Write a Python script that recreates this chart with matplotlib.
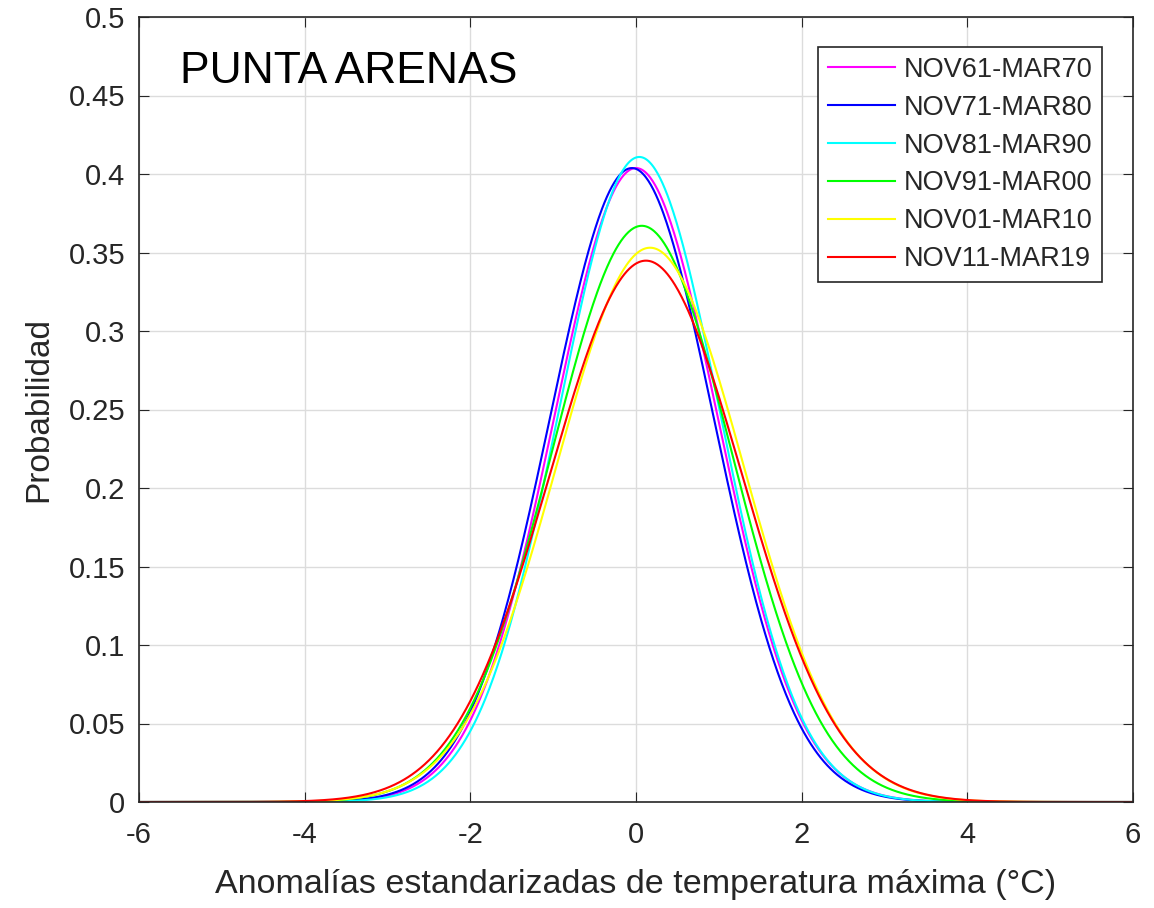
import numpy as np
import matplotlib
matplotlib.use("Agg")
import matplotlib.pyplot as plt

plt.rcParams['font.family'] = ['Liberation Sans', 'DejaVu Sans']
plt.rcParams['axes.unicode_minus'] = False

periods = ["NOV61-MAR70", "NOV71-MAR80", "NOV81-MAR90", "NOV91-MAR00", "NOV01-MAR10", "NOV11-MAR19"]
colors = ["#ff00ff", "#0000ff", "#00ffff", "#00ff00", "#ffff00", "#ff0000"]
means = [0.00, -0.05, 0.04, 0.07, 0.17, 0.12]
stds = [0.988, 0.988, 0.971, 1.087, 1.130, 1.157]

x = np.linspace(-6, 6, 1201)

fig = plt.figure(figsize=(11.54, 9.08), dpi=100)
ax = fig.add_axes([139/1154, 1-802/908, (1133-139)/1154, (802-17)/908])
for p, c, m, s in zip(periods, colors, means, stds):
    y = np.exp(-0.5*((x-m)/s)**2)/(s*np.sqrt(2*np.pi))
    ax.plot(x, y, color=c, lw=1.5, label=p)

ax.set_xlim(-6, 6)
ax.set_ylim(0, 0.5)
ax.set_xticks([-6, -4, -2, 0, 2, 4, 6])
ax.set_xticklabels(["-6", "-4", "-2", "0", "2", "4", "6"])
ax.set_yticks(np.arange(0, 0.501, 0.05))
ax.set_yticklabels(["0", "0.05", "0.1", "0.15", "0.2", "0.25", "0.3", "0.35", "0.4", "0.45", "0.5"])
ax.grid(True, color="#dcdcdc", lw=1)
ax.set_axisbelow(True)
ax.tick_params(direction='in', top=True, right=True, labelsize=21, colors="#262626", length=7)
ax.tick_params(axis='x', pad=14)
ax.tick_params(axis='y', pad=10)
for sp in ax.spines.values():
    sp.set_color("#262626")
    sp.set_linewidth(1.2)
ax.set_xlabel("Anomalías estandarizadas de temperatura máxima (°C)", fontsize=24.5, color="#262626", labelpad=14)
ax.set_ylabel("Probabilidad", fontsize=24, color="#262626", labelpad=10)
ax.text(0.041, 0.93, "PUNTA ARENAS", transform=ax.transAxes, fontsize=32, color="#000000", va="center")
leg = ax.legend(loc="upper right", bbox_to_anchor=(0.9685, 0.9615), fontsize=19.5, frameon=True, fancybox=False,
                edgecolor="#262626", framealpha=1, handlelength=2.5, borderpad=0.35, labelspacing=0.44,
                handletextpad=0.3, borderaxespad=0)
leg.get_frame().set_linewidth(1.2)
for t in leg.get_texts():
    t.set_color("#262626")
fig.savefig("out.png", dpi=100)
